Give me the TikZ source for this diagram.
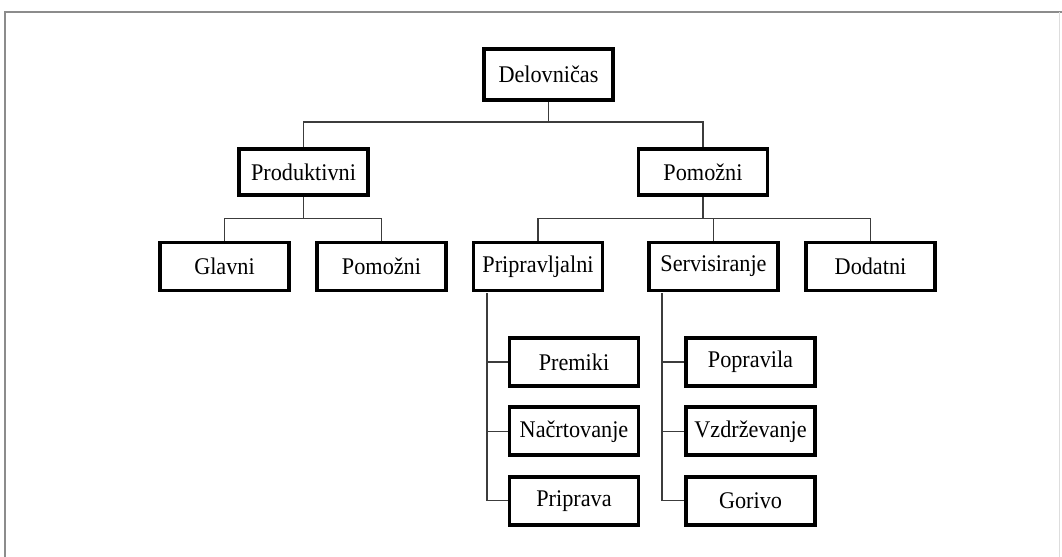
\documentclass[tikz,border=0pt]{standalone}
\usepackage{fontspec}
\setmainfont{Liberation Serif}[FakeStretch=0.93]
\usetikzlibrary{positioning}
\definecolor{linkgray}{RGB}{60, 60, 60}
\definecolor{framegray}{RGB}{140, 140, 140}
\tikzset{
    unitbox/.style={draw=black, line width=2.2pt, fill=white,
        minimum width=2.58cm, minimum height=0.96cm, inner sep=0pt,
        font=\fontsize{13.6}{15}\selectfont},
    link/.style={draw=linkgray, line width=0.8pt}
}

\begin{document}
\begin{tikzpicture}
        \useasboundingbox (0, 0) rectangle (21.24, -11.14);
        \draw[framegray, line width=0.6pt]
            (0.1, -11.14) -- (0.1, -0.24) -- (21.24, -0.24);
        \draw[framegray!30, line width=0.5pt]
            (21.18, -0.24) -- (21.18, -11.14);

        \node[unitbox, minimum height=1.02cm] (delo) at (10.97, -1.49)
            {Delovničas};
        \node[unitbox, minimum height=0.92cm] (prod) at (6.07, -3.44)
            {Produktivni};
        \node[unitbox, minimum height=0.92cm] (pomo) at (14.06, -3.44)
            {Pomožni};
        \node[unitbox] (glav) at (4.49, -5.33) {Glavni};
        \node[unitbox] (ppom) at (7.63, -5.33) {Pomožni};
        \node[unitbox] (prip) at (10.76, -5.33) {Pripravljalni};
        \node[unitbox] (serv) at (14.27, -5.33) {Servisiranje};
        \node[unitbox] (doda) at (17.41, -5.33) {Dodatni};
        \node[unitbox] (prem) at (11.48, -7.24) {Premiki};
        \node[unitbox, below=0.35cm of prem] (nacr) {Načrtovanje};
        \node[unitbox, below=0.35cm of nacr] (ppra) {Priprava};
        \node[unitbox] (popr) at (15.01, -7.24) {Popravila};
        \node[unitbox, below=0.35cm of popr] (vzdr) {Vzdrževanje};
        \node[unitbox, below=0.35cm of vzdr] (gori) {Gorivo};

        \coordinate (bar0) at (10.97, -2.44);
        \coordinate (bar1) at (6.07, -4.37);
        \coordinate (bar2) at (14.06, -4.37);
        \coordinate (pspine) at (9.74, -5.86);
        \coordinate (sspine) at (13.24, -5.86);

        \draw[link] (delo) -- (bar0);
        \draw[link] (prod.north) |- (bar0) -| (pomo.north);
        \draw[link] (prod) -- (bar1);
        \draw[link] (glav.north) |- (bar1) -| (ppom.north);
        \draw[link] (pomo) -- (bar2);
        \draw[link] (prip.north) |- (bar2) -| (doda.north);
        \draw[link] (serv.north) -- (serv.north |- bar2);
        \draw[link] (pspine) |- (prem.west);
        \draw[link] (pspine) |- (nacr.west);
        \draw[link] (pspine) |- (ppra.west);
        \draw[link] (sspine) |- (popr.west);
        \draw[link] (sspine) |- (vzdr.west);
        \draw[link] (sspine) |- (gori.west);
    \end{tikzpicture}
\end{document}
